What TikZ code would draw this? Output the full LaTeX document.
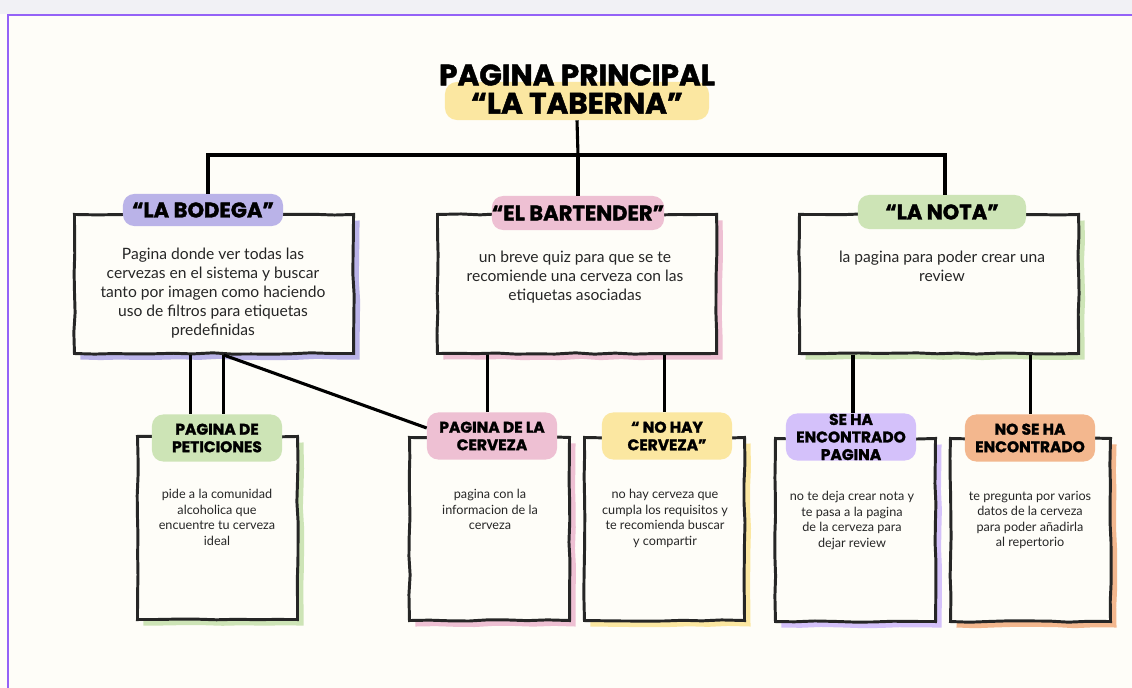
\documentclass[tikz,border=0pt]{standalone}
\usepackage{fontspec}
\setmainfont{Lato}
\newfontfamily\headfont{Poppins}[BoldFeatures={FakeBold=1.6}]
\usepackage{tikz}
\usetikzlibrary{positioning}
\usetikzlibrary{shadows}
\usetikzlibrary{decorations.pathmorphing}

\definecolor{paper}{HTML}{FEFDF8}
\definecolor{ink}{HTML}{262626}
\definecolor{uigray}{HTML}{F1F1F5}
\definecolor{frame}{HTML}{9462F7}
\definecolor{lilac}{HTML}{BAB3E8}
\definecolor{lilaclight}{HTML}{D4C1FA}
\definecolor{rose}{HTML}{EEC0D3}
\definecolor{sage}{HTML}{CDE4B6}
\definecolor{butter}{HTML}{FBE7A1}
\definecolor{peach}{HTML}{F3B78E}

\tikzset{
  card/.style={rectangle, draw=ink, line width=2.1pt, fill=paper, anchor=north west,
    decorate, decoration={random steps, segment length=14pt, amplitude=0.5pt},
    drop shadow={shadow xshift=0.15cm, shadow yshift=-0.15cm, fill=#1, opacity=1}},
  bigcard/.style={card=#1, minimum width=6.975cm, minimum height=3.475cm},
  smallcard/.style={card=#1, minimum width=4cm, minimum height=4.575cm},
  tag/.style={rectangle, fill=#1, rounded corners=0.28cm, inner sep=0pt, align=center,
    font=\headfont\bfseries\fontsize{15}{16}\selectfont},
  smalltag/.style={tag=#1, minimum width=3.25cm, minimum height=1.175cm,
    font=\headfont\bfseries\fontsize{11}{12.5}\selectfont},
  desc/.style={anchor=north, align=center, text=ink, inner sep=0pt, font=\fontsize{11.1}{13.5}\selectfont},
  smalldesc/.style={desc, font=\fontsize{9}{11}\selectfont},
  link/.style={draw=black, line width=2.2pt}
}

\begin{document}
\begin{tikzpicture}[x=0.025cm, y=-0.025cm]

% page and window frame
\fill[paper] (0,0) rectangle (1132,688);
\fill[uigray] (0,0) rectangle (1132,14);
\useasboundingbox (0,0) rectangle (1132,688);
\draw[frame, line width=1.5pt] (8,688) -- (8,15) -- (1132,15);

% title
\node at (577,101)[rectangle, fill=butter, rounded corners=0.3cm, minimum width=6.6cm, minimum height=0.95cm] (tabernamark) {};
\node at (577,89)[align=center, font=\headfont\bfseries\fontsize{21}{20}\selectfont] (taberna) {PAGINA PRINCIPAL\\“LA TABERNA”};
\coordinate (hub) at (578,155);

% first level
\node at (73,213)[bigcard=lilac] (bodega) {};
\node at (203,210)[tag=lilac, minimum width=4cm, minimum height=0.8cm] (bodegatag) {“LA BODEGA”};
\node at (213,248)[desc] (bodegadesc) {Pagina donde ver todas las\\cervezas en el sistema y buscar\\tanto por imagen como haciendo\\uso de filtros para etiquetas\\predefinidas};

\node at (436,213)[bigcard=rose] (bartender) {};
\node at (578,213)[tag=rose, minimum width=4.2cm, minimum height=0.85cm] (bartendertag) {“EL BARTENDER”};
\node at (575,251)[desc] (bartenderdesc) {un breve quiz para que se te\\recomiende una cerveza con las\\etiquetas asociadas};

\node at (798,213)[bigcard=sage] (nota) {};
\node at (942,212)[tag=sage, minimum width=4.2cm, minimum height=0.85cm] (notatag) {“LA NOTA”};
\node at (942,251)[desc] (notadesc) {la pagina para poder crear una\\review};

\draw[link] (tabernamark.south) -- (hub);
\draw[link] ([xshift=0.125cm]bodegatag.north) |- (hub) -| ([xshift=0.075cm]notatag.north);
\draw[link] (hub) -- (bartendertag.north);

% second level
\node at (136,435)[smallcard=sage] (peticiones) {};
\node at (217,438)[smalltag=sage] (peticionestag) {PAGINA DE\\PETICIONES};
\node at (217,489)[smalldesc] (peticionesdesc) {pide a la comunidad\\alcoholica que\\encuentre tu cerveza\\ideal};

\node at (408,436)[smallcard=rose] (cervezapag) {};
\node at (492,436)[smalltag=rose] (cervezatag) {PAGINA DE LA\\CERVEZA};
\node at (490,489)[smalldesc] (cervezadesc) {pagina con la\\informacion de la\\cerveza};

\node at (583,436)[smallcard=butter] (nohay) {};
\node at (667,436)[smalltag=butter] (nohaytag) {“ NO HAY\\CERVEZA”};
\node at (665,489)[smalldesc] (nohaydesc) {no hay cerveza que\\cumpla los requisitos y\\te recomienda buscar\\y compartir};

\node at (774,437)[smallcard=lilaclight] (seha) {};
\node at (851,437)[smalltag=lilaclight] (sehatag) {SE HA\\ENCONTRADO\\PAGINA};
\node at (852,491)[smalldesc] (sehadesc) {no te deja crear nota y\\te pasa a la pagina\\de la cerveza para\\dejar review};

\node at (949,437)[smallcard=peach] (nose) {};
\node at (1030,438)[smalltag=peach] (nosetag) {NO SE HA\\ENCONTRADO};
\node at (1030,491)[smalldesc] (nosedesc) {te pregunta por varios\\datos de la cerveza\\para poder añadirla\\al repertorio};

\draw[link] ([xshift=-0.59cm]bodega.south) coordinate (b1) -- (b1 |- peticionestag.north);
\draw[link] ([xshift=0.24cm]bodega.south) coordinate (b2) -- (b2 |- peticionestag.north);
\draw[link] (b2) -- ([yshift=0.2cm]cervezatag.west);
\draw[link] ([xshift=-2.24cm]bartender.south) coordinate (t1) -- (t1 |- cervezatag.north);
\draw[link] ([xshift=2.19cm]bartender.south) coordinate (t2) -- (t2 |- nohaytag.north);
\draw[link] ([xshift=-2.15cm]nota.south) coordinate (n1) -- (n1 |- sehatag.north);
\draw[link] ([xshift=2.28cm]nota.south) coordinate (n2) -- (n2 |- nosetag.north);

\end{tikzpicture}
\end{document}
